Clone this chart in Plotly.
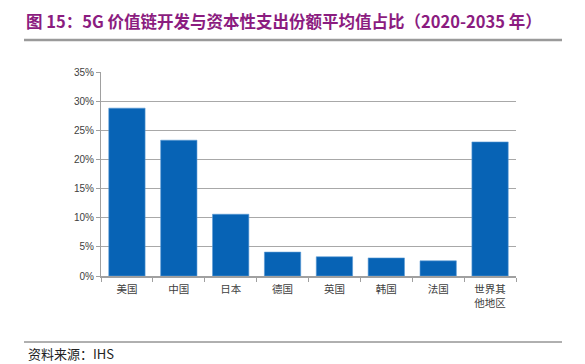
import plotly.graph_objects as go

categories = ["美国", "中国", "日本", "德国", "英国", "韩国", "法国", "世界其<br>他地区"]
values = [28.8, 23.3, 10.6, 4.1, 3.3, 3.1, 2.6, 23.0]
tick_vals = [0, 5, 10, 15, 20, 25, 30, 35]
tick_text = ["0%", "5%", "10%", "15%", "20%", "25%", "30%", "35%"]

W, H = 585, 364
OFF = 8  # page body margin
L, R, T, B = 101 - OFF, 516 - OFF, 72 - OFF, 276 - OFF

def px(x):
    return (x - OFF - L) / (R - L)

def py(y):
    return (B - (y - OFF)) / (B - T)

fig = go.Figure(go.Bar(
    x=categories, y=values, marker=dict(color="#0763B5", line=dict(color="#5B9BD5", width=0.6)),
    width=0.7,
))

fig.update_layout(
    width=W, height=H,
    margin=dict(l=L, r=W - R, t=T, b=H - B),
    paper_bgcolor="white", plot_bgcolor="white",
    showlegend=False,
    font=dict(family="Noto Sans CJK SC", color="#404040"),
    xaxis=dict(
        showline=True, linecolor="#A0A0A0", linewidth=1.5,
        ticks="outside", tickson="boundaries", ticklen=4, tickcolor="#A0A0A0",
        tickfont=dict(size=10.5, color="#404040"),
        ticklabelstandoff=3,
        showgrid=False,
    ),
    yaxis=dict(
        range=[0, 35], tickvals=tick_vals, ticktext=tick_text,
        showgrid=True, gridcolor="#A8A8A8", gridwidth=1.2,
        showline=True, linecolor="#A0A0A0", linewidth=1.2,
        ticks="outside", ticklen=4, tickcolor="#A0A0A0",
        tickfont=dict(size=10, family="Liberation Sans", color="#404040"),
        zeroline=False,
    ),
    shapes=[
        dict(type="line", xref="paper", yref="paper", x0=px(24), x1=px(562), y0=py(40), y1=py(40),
             line=dict(color="#9A9A9A", width=2.5)),
        dict(type="line", xref="paper", yref="paper", x0=px(24), x1=px(562), y0=py(342), y1=py(342),
             line=dict(color="#606060", width=1)),
    ],
    annotations=[
        dict(text="<b>图 15：5G 价值链开发与资本性支出份额平均值占比（2020-2035 年）</b>",
             xref="paper", yref="paper", x=px(24), y=py(21), xanchor="left", yanchor="middle",
             showarrow=False, font=dict(size=16.5, color="#8B1C80", family="Noto Sans CJK SC")),
        dict(text="资料来源：IHS", xref="paper", yref="paper", x=px(26), y=py(353),
             xanchor="left", yanchor="middle", showarrow=False,
             font=dict(size=13, color="#222222", family="Noto Sans CJK SC")),
    ],
)

fig.write_html("out.html")
